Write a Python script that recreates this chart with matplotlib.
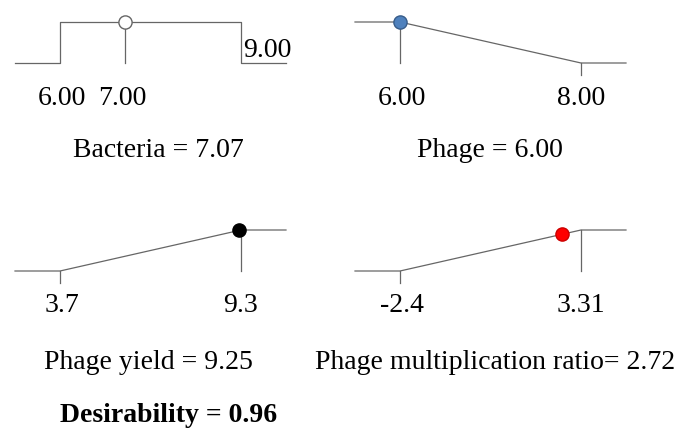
import matplotlib
matplotlib.use("Agg")
import matplotlib.pyplot as plt

# ---- data ----
names = ["Bacteria", "Phage", "Phage yield", "Phage multiplication ratio"]
goals = ["range", "minimize", "maximize", "maximize"]
lows = [6.00, 6.00, 3.7, -2.4]
highs = [9.00, 8.00, 9.3, 3.31]
values = [7.07, 6.00, 9.25, 2.72]
low_labels = ["6.00", "6.00", "3.7", "-2.4"]
high_labels = ["9.00", "8.00", "9.3", "3.31"]
mid_label = "7.00"
titles = ["Bacteria = 7.07", "Phage = 6.00", "Phage yield = 9.25",
          "Phage multiplication ratio= 2.72"]
desirability_text = "Desirability = 0.96"
marker_face = ["white", "#4f81bd", "black", "#ff0000"]
marker_edge = ["#666666", "#385d8a", "black", "#cc0000"]

W, H = 680, 430
plt.rcParams['font.family'] = ['Liberation Serif', 'DejaVu Serif']
FS = 20
LC = "#666666"
LW = 0.9
PT = 72 / 100  # points per pixel

fig = plt.figure(figsize=(W / 100, H / 100), dpi=100)


def desir(goal, x, lo, hi):
    if goal == "range":
        return 1.0 if lo <= x <= hi else 0.0
    t = (x - lo) / (hi - lo)
    t = min(max(t, 0.0), 1.0)
    return 1.0 - t if goal == "minimize" else t


# panel layout in pixels: (lo pixel x, baseline pixel y)
layout = [(60, 63), (400, 63), (60, 271), (400, 271)]
label_drop = [42, 42, 41, 41]
title_pos = [(158, 157), (490, 157), (148, 369), (495, 369)]
span_px, ext_px, height_px = 181, 45, 41

for i in range(4):
    lo, hi, val, goal = lows[i], highs[i], values[i], goals[i]
    lx, by = layout[i]
    ax = fig.add_axes([(lx - ext_px) / W, 1 - by / H,
                       (span_px + 2 * ext_px) / W, height_px / H])
    ext = (hi - lo) * ext_px / span_px
    xmin, xmax = lo - ext, hi + ext
    ax.set_xlim(xmin, xmax)
    ax.set_ylim(0, 1)
    ax.axis("off")
    tick = 12 / height_px
    if goal == "range":
        xs = [xmin, lo, lo, hi, hi, xmax]
        ys = [0, 0, 1, 1, 0, 0]
    elif goal == "minimize":
        xs = [xmin, lo, hi, xmax]
        ys = [1, 1, 0, 0]
    else:
        xs = [xmin, lo, hi, xmax]
        ys = [0, 0, 1, 1]
    ax.plot(xs, ys, color=LC, lw=LW, clip_on=False, zorder=2)
    dv = desir(goal, val, lo, hi)
    # indicator lines
    if i == 0:
        ax.plot([val, val], [0, dv], color=LC, lw=LW, clip_on=False)
    elif i == 1:
        ax.plot([val, val], [0, dv], color=LC, lw=LW, clip_on=False)
        ax.plot([hi, hi], [0, -tick], color=LC, lw=LW, clip_on=False)
    else:
        ax.plot([hi, hi], [0, 1], color=LC, lw=LW, clip_on=False)
        ax.plot([lo, lo], [0, -tick], color=LC, lw=LW, clip_on=False)
    ax.plot([val], [dv], marker="o", ms=9.5, mfc=marker_face[i],
            mec=marker_edge[i], mew=1.0, clip_on=False, zorder=5)
    # labels
    off = -label_drop[i] * PT
    ax.annotate(low_labels[i], xy=(lo, 0), xytext=(2 * PT, off),
                textcoords="offset points", ha="center", va="baseline",
                fontsize=FS)
    if i == 0:
        ax.annotate(mid_label, xy=(val, 0), xytext=(-2 * PT, off),
                    textcoords="offset points", ha="center", va="baseline",
                    fontsize=FS)
        ax.annotate(high_labels[i], xy=(hi, 0), xytext=(2 * PT, 6 * PT),
                    textcoords="offset points", ha="left", va="baseline",
                    fontsize=FS)
    else:
        ax.annotate(high_labels[i], xy=(hi, 0), xytext=(0, off),
                    textcoords="offset points", ha="center", va="baseline",
                    fontsize=FS)
    tx, ty = title_pos[i]
    fig.text(tx / W, 1 - ty / H, titles[i], ha="center", va="baseline",
             fontsize=FS)

fig.text(169 / W, 1 - 422 / H, desirability_text, ha="center", va="baseline",
         fontsize=FS, fontweight="bold")

fig.savefig("out.png", dpi=100)
